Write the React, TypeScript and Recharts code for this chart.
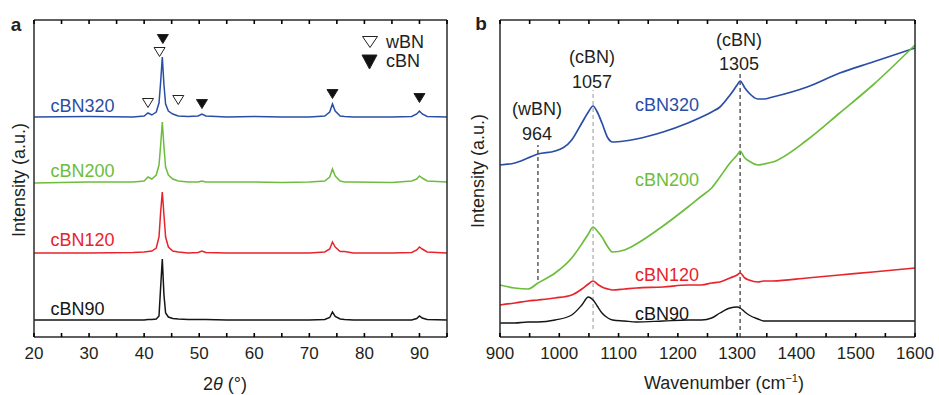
import React from "react";
import {
  ComposedChart,
  Line,
  Scatter,
  XAxis,
  YAxis,
  ReferenceLine,
} from "recharts";

// ---- panel a: XRD (2θ in degrees, intensity in a.u., offset per sample) ----
const TWO_THETA = [
  20, 30, 38, 40, 40.7, 41.4, 42.2, 42.7, 43.0, 43.3, 43.6, 43.9, 44.4, 45.2,
  46.2, 48, 49.8, 50.5, 51.2, 55, 60, 65, 70, 72.8, 73.7, 74.2, 74.7, 75.6,
  76.4, 78, 85, 88.6, 89.5, 90, 90.5, 91.4, 95,
];
const XRD_320 = [
  220, 220.5, 220, 221, 224, 222, 225, 234, 255, 280, 252, 233, 226, 223, 221,
  220.5, 221, 223, 221, 220, 220.5, 220, 220, 221, 225, 233, 226, 221, 220.5,
  220, 220, 220.5, 223, 226, 223, 220.5, 220,
];
const XRD_200 = [
  154, 155, 155, 156, 160, 158, 162, 172, 192, 215, 190, 170, 162, 158, 156,
  155, 155, 156, 155, 155, 155, 154.5, 155, 156, 160, 168, 161, 156, 155, 155,
  154.5, 156, 158, 161, 159, 156, 155,
];
const XRD_120 = [
  84, 84, 84.5, 85, 85.5, 86, 89, 100, 125, 145, 122, 100, 90, 86, 85, 84,
  84.5, 86, 84.5, 84, 84, 84, 84, 85, 88, 95, 90, 85.5, 85.5, 84, 84, 84.5, 87,
  90, 88, 85, 84,
];
const XRD_90 = [
  17, 17, 17, 17, 17.5, 17.5, 18, 21, 50, 78, 42, 24, 20, 18.5, 18, 17.5, 17.5,
  17.5, 17.5, 17, 17, 17, 17, 17.5, 19.5, 25, 20.5, 18, 17.5, 17, 17, 17, 18.5,
  21, 19, 17.5, 17,
];
const XRD_TICKS = [20, 25, 30, 35, 40, 45, 50, 55, 60, 65, 70, 75, 80, 85, 90, 95];

// phase markers (2θ, height)
const WBN_MARK_X = [40.7, 42.8, 46.2];
const WBN_MARK_Y = [234, 285, 237];
const CBN_MARK_X = [43.4, 50.5, 74.2, 90];
const CBN_MARK_Y = [298, 233, 243, 239];

// ---- panel b: Raman ----
const WAVENUMBER = [
  900, 925, 947, 964, 993, 1021, 1038, 1049, 1057, 1064, 1072, 1082, 1090,
  1110, 1130, 1175, 1217, 1240, 1257, 1271, 1288, 1300, 1305, 1313, 1320, 1335,
  1345, 1360, 1418, 1473, 1529, 1600,
];
const RAMAN_320 = [
  172, 174, 179, 183, 186, 197, 214, 225, 231, 225, 214, 199, 195, 196, 198,
  205, 214, 220, 225, 230, 242, 252, 256, 249, 244, 238, 238, 240, 250, 264,
  275, 289,
];
const RAMAN_200 = [
  52, 49, 48, 54, 64, 79, 93, 103, 110, 106, 100, 90, 85, 87, 93, 111, 130,
  141, 149, 160, 174, 182, 186, 179, 176, 172, 173, 175, 197, 224, 252, 292,
];
const RAMAN_120 = [
  32, 34, 36, 37, 39, 42, 48, 53, 56, 53, 50, 48, 47, 48, 49, 50, 52, 52, 54,
  55, 59, 62, 64, 59, 57, 55, 56, 56, 59, 62, 65, 69,
];
const RAMAN_90 = [
  14, 14, 15, 15, 17, 22, 32, 40, 37, 31, 24, 19, 17, 16, 15, 16, 17, 17, 19,
  24, 29, 30, 29, 25, 22, 18, 16, 16, 16, 16, 16, 16,
];
const RAMAN_TICKS = [
  900, 950, 1000, 1050, 1100, 1150, 1200, 1250, 1300, 1350, 1400, 1450, 1500,
  1550, 1600,
];
const PEAK_POS = [964, 1057, 1305];
const PEAK_GUIDE_FROM = [57, 8, 0];
const PEAK_GUIDE_TO = [192, 247, 264];

const SAMPLES = ["cBN320", "cBN200", "cBN120", "cBN90"];

const FONT = '"Liberation Sans", Arial, Helvetica, sans-serif';
const INK = "#231f20";
const AXIS = "#2b2b2b";
const COLORS = ["#2a4ea6", "#6cbd3c", "#e8232b", "#151515"];
const Y_MAX = 317;
const TICK_LEN = 4;

const xrdRows = TWO_THETA.map((x, i) => ({
  x,
  s320: XRD_320[i],
  s200: XRD_200[i],
  s120: XRD_120[i],
  s90: XRD_90[i],
}));
const ramanRows = WAVENUMBER.map((x, i) => ({
  x,
  s320: RAMAN_320[i],
  s200: RAMAN_200[i],
  s120: RAMAN_120[i],
  s90: RAMAN_90[i],
}));
const wbnMarks = WBN_MARK_X.map((x, i) => ({ x, y: WBN_MARK_Y[i] }));
const cbnMarks = CBN_MARK_X.map((x, i) => ({ x, y: CBN_MARK_Y[i] }));
const KEYS = ["s320", "s200", "s120", "s90"];

function Tag({
  x,
  y,
  color = INK,
  size = 18,
  center = false,
  bold = false,
  rotate = false,
  children,
}: any) {
  let transform = center ? "translate(-50%,-50%)" : "translateY(-50%)";
  if (rotate) transform = "translate(-50%,-50%) rotate(-90deg)";
  return (
    <div
      style={{
        position: "absolute",
        left: x,
        top: y,
        transform,
        color,
        fontSize: size,
        fontFamily: FONT,
        fontWeight: bold ? 700 : 400,
        lineHeight: 1,
        whiteSpace: "nowrap",
      }}
    >
      {children}
    </div>
  );
}

function Tri({ cx, cy, filled, w = 11, h = 9 }: any) {
  if (cx == null || cy == null) return null;
  return (
    <polygon
      points={`${cx - w / 2},${cy - h / 2} ${cx + w / 2},${cy - h / 2} ${cx},${cy + h / 2}`}
      fill={filled ? "#111" : "#fff"}
      stroke="#222"
      strokeWidth={1}
    />
  );
}

const axisLine = { stroke: AXIS, strokeWidth: 1.5 };

// inward tick marks; labels only on every `step`
function bottomTick(step: number) {
  return (p: any) => {
    const v = p.payload.value;
    return (
      <g>
        <path
          d={`M${p.x},${p.y}V${p.y - TICK_LEN}`}
          stroke="#000"
          strokeWidth={1.6}
          fill="none"
        />
        {v % step === 0 ? (
          <text
            x={p.x}
            y={p.y + 22}
            textAnchor="middle"
            fill={INK}
            fontSize={17}
            fontFamily={FONT}
          >
            {v}
          </text>
        ) : null}
      </g>
    );
  };
}
const topTick = (p: any) => (
  <path
    d={`M${p.x},${p.y}V${p.y + TICK_LEN}`}
    stroke="#000"
    strokeWidth={1.6}
    fill="none"
  />
);

function Frame({ domain, ticks, step, leftW, rightW }: any) {
  return [
    <XAxis
      key="xb"
      xAxisId="b"
      dataKey="x"
      type="number"
      domain={domain}
      ticks={ticks}
      interval={0}
      tickSize={0}
      tickMargin={0}
      tickLine={false}
      height={58}
      axisLine={axisLine}
      tick={bottomTick(step)}
    />,
    <XAxis
      key="xt"
      xAxisId="t"
      orientation="top"
      dataKey="x"
      type="number"
      domain={domain}
      ticks={ticks}
      interval={0}
      tickSize={0}
      tickMargin={0}
      tickLine={false}
      height={20}
      axisLine={axisLine}
      tick={topTick}
    />,
    <YAxis
      key="yl"
      yAxisId="l"
      type="number"
      domain={[0, Y_MAX]}
      width={leftW}
      tick={false}
      tickLine={false}
      axisLine={axisLine}
    />,
    <YAxis
      key="yr"
      yAxisId="r"
      orientation="right"
      type="number"
      domain={[0, Y_MAX]}
      width={rightW}
      tick={false}
      tickLine={false}
      axisLine={axisLine}
    />,
  ];
}

export default function App() {
  return (
    <div
      style={{
        position: "absolute",
        left: 0,
        top: 0,
        width: 939,
        height: 395,
        background: "#fff",
        fontFamily: FONT,
      }}
    >
      {/* panel a */}
      <div style={{ position: "absolute", left: 0, top: 0 }}>
        <ComposedChart
          width={470}
          height={395}
          data={xrdRows}
          margin={{ top: 0, right: 0, bottom: 0, left: 0 }}
        >
          {Frame({ domain: [20, 95], ticks: XRD_TICKS, step: 10, leftW: 34, rightW: 23 })}
          {KEYS.map((k, i) => (
            <Line
              key={k}
              xAxisId="b"
              yAxisId="l"
              dataKey={k}
              type="linear"
              stroke={COLORS[i]}
              strokeWidth={1.5}
              dot={false}
              activeDot={false}
              isAnimationActive={false}
            />
          ))}
          <Scatter
            xAxisId="b"
            yAxisId="l"
            data={wbnMarks}
            dataKey="y"
            isAnimationActive={false}
            shape={(p: any) => <Tri cx={p.cx} cy={p.cy} />}
          />
          <Scatter
            xAxisId="b"
            yAxisId="l"
            data={cbnMarks}
            dataKey="y"
            isAnimationActive={false}
            shape={(p: any) => <Tri cx={p.cx} cy={p.cy} filled />}
          />
        </ComposedChart>
      </div>

      {/* panel b */}
      <div style={{ position: "absolute", left: 470, top: 0 }}>
        <ComposedChart
          width={469}
          height={395}
          data={ramanRows}
          margin={{ top: 0, right: 0, bottom: 0, left: 0 }}
        >
          {Frame({ domain: [900, 1600], ticks: RAMAN_TICKS, step: 100, leftW: 30, rightW: 24 })}
          {PEAK_POS.map((p, i) => (
            <ReferenceLine
              key={p}
              xAxisId="b"
              yAxisId="l"
              segment={[
                { x: p, y: PEAK_GUIDE_FROM[i] },
                { x: p, y: PEAK_GUIDE_TO[i] },
              ]}
              stroke={i === 1 ? "#a8a8a8" : "#333"}
              strokeWidth={1.2}
              strokeDasharray="4 3"
            />
          ))}
          {KEYS.map((k, i) => (
            <Line
              key={k}
              xAxisId="b"
              yAxisId="l"
              dataKey={k}
              type="monotone"
              stroke={COLORS[i]}
              strokeWidth={i === 3 ? 1.4 : 1.7}
              dot={false}
              activeDot={false}
              isAnimationActive={false}
            />
          ))}
        </ComposedChart>
      </div>

      {/* legend of panel a */}
      <svg
        style={{ position: "absolute", left: 355, top: 30 }}
        width={30}
        height={45}
      >
        <Tri cx={15} cy={12} w={15} h={11} />
        <Tri cx={14.5} cy={32} w={15} h={14} filled />
      </svg>
      <Tag x={386} y={41.5}>wBN</Tag>
      <Tag x={386} y={61}>cBN</Tag>

      {/* panel letters and axis titles */}
      <Tag x={16} y={24} size={19} bold center>a</Tag>
      <Tag x={481} y={23} size={19} bold center>b</Tag>
      <Tag x={19} y={180} rotate>Intensity (a.u.)</Tag>
      <Tag x={478} y={171} rotate>Intensity (a.u.)</Tag>
      <Tag x={225} y={384} center>
        2<i>θ</i> (°)
      </Tag>
      <Tag x={724} y={382} center>
        Wavenumber (cm<sup style={{ fontSize: 11 }}>−1</sup>)
      </Tag>

      {/* sample labels */}
      {SAMPLES.map((s, i) => (
        <Tag key={"a" + s} x={50.5} y={[105.5, 170.5, 240, 308.5][i]} color={COLORS[i]}>
          {s}
        </Tag>
      ))}
      {SAMPLES.map((s, i) => (
        <Tag key={"b" + s} x={635} y={[105, 180, 275, 313.5][i]} color={COLORS[i]}>
          {s}
        </Tag>
      ))}

      {/* Raman peak annotations */}
      <Tag x={537} y={109} center>(wBN)</Tag>
      <Tag x={537} y={133.5} center>964</Tag>
      <Tag x={592} y={57} center>(cBN)</Tag>
      <Tag x={592} y={81.5} center>1057</Tag>
      <Tag x={739} y={40} center>(cBN)</Tag>
      <Tag x={739} y={63.5} center>1305</Tag>
    </div>
  );
}
